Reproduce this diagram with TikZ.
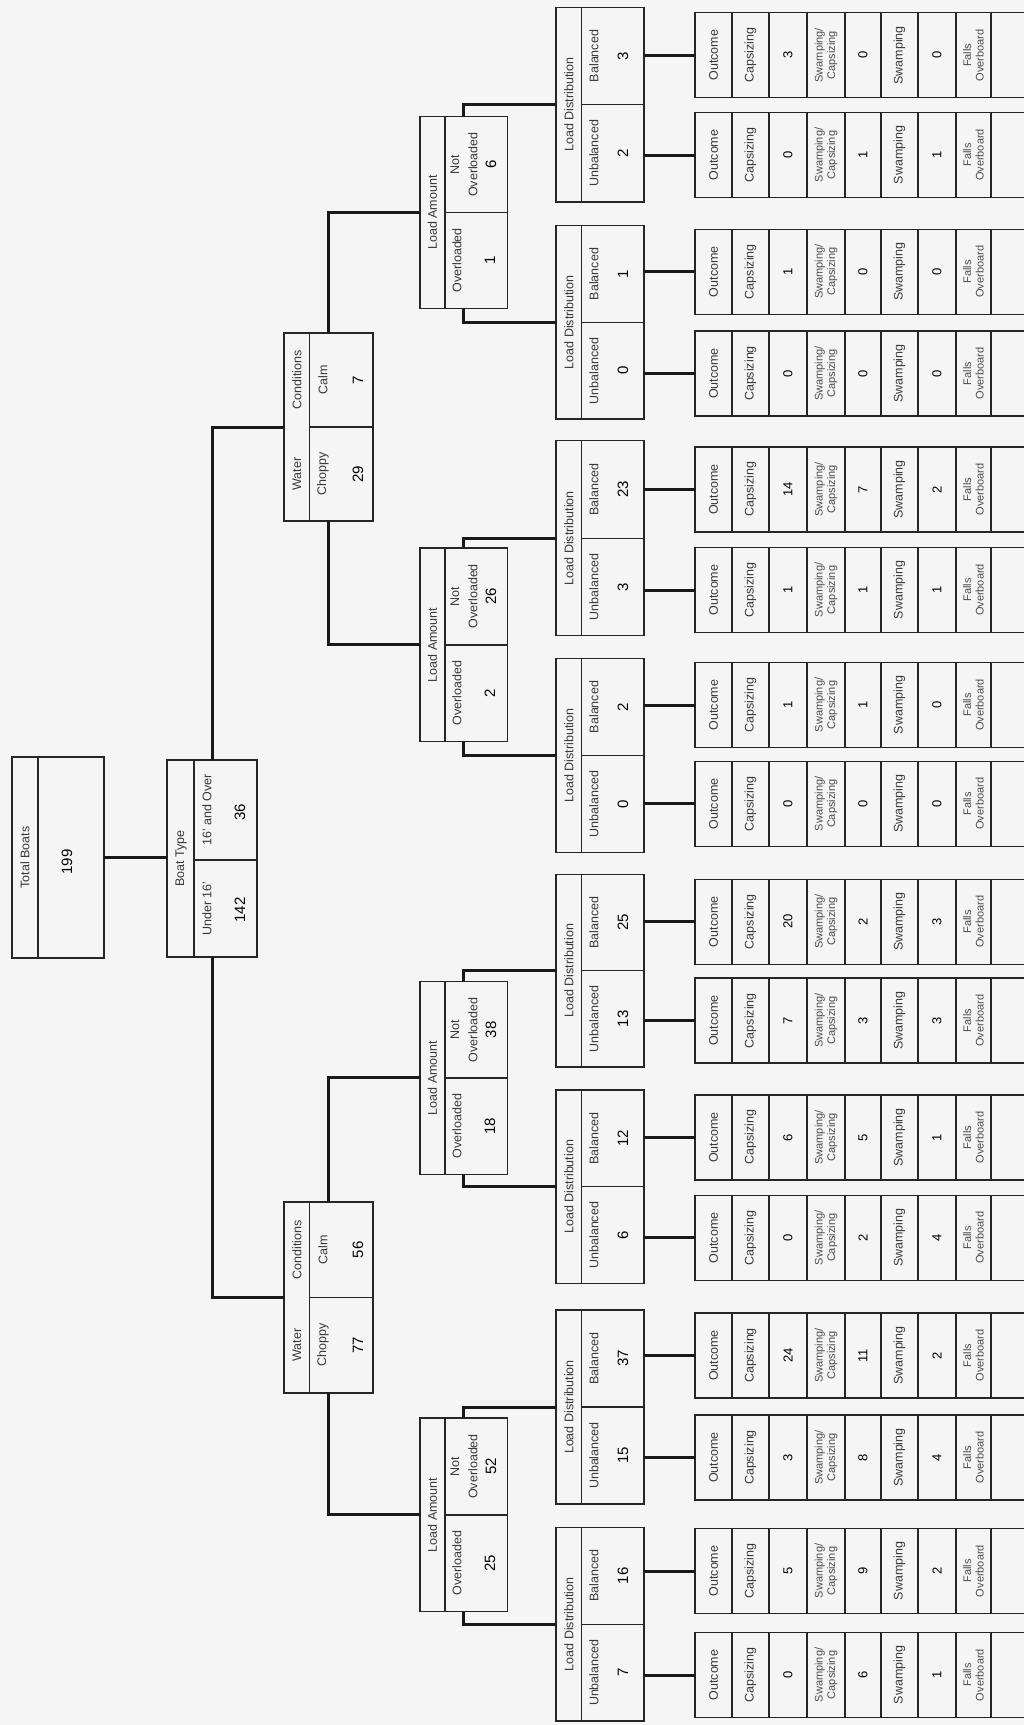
\documentclass[tikz,border=0pt]{standalone}
\usepackage{fontspec}
\setmainfont{Liberation Sans}
\newcommand{\LDbox}[5]{%
  \pgfmathsetmacro\ldmid{(#2+#3)/2}%
  \pgfmathsetmacro\ldh{#3-#2}%
  \pgfmathsetmacro\ldup{(#2+\ldmid)/2}%
  \pgfmathsetmacro\ldlo{(#3+\ldmid)/2}%
  \node[box, minimum width=88pt, minimum height=\ldh pt] (#1) at (600,\ldmid) {};
  \draw[boxline] (581.5,#2) -- (581.5,#3) (581.5,\ldmid) -- (644,\ldmid);
  \node[lab] (#1h) at (569,\ldmid) {Load Distribution};
  \node[lab] (#1bl) at (594,\ldup) {Balanced};
  \node[num] (#1bn) at (623,\ldup) {#4};
  \node[lab] (#1ul) at (594,\ldlo) {Unbalanced};
  \node[num] (#1un) at (623,\ldlo) {#5};
}
\newcommand{\LAbox}[5]{%
  \pgfmathsetmacro\lamid{(#2+#3)/2}%
  \pgfmathsetmacro\lah{#3-#2}%
  \pgfmathsetmacro\laup{(#2+\lamid)/2}%
  \pgfmathsetmacro\lalo{(#3+\lamid)/2}%
  \node[box, minimum width=87.5pt, minimum height=\lah pt] (#1) at (463.75,\lamid) {};
  \draw[boxline] (445,#2) -- (445,#3) (445,\lamid) -- (507.5,\lamid);
  \node[lab] (#1h) at (432.5,\lamid) {Load Amount};
  \node[lab] (#1ol) at (457,\lalo) {Overloaded};
  \node[num] (#1on) at (490,\lalo) {#4};
  \node[lab] (#1nl) at (455,\laup) {Not};
  \node[lab] (#1nlb) at (473,\laup) {Overloaded};
  \node[num] (#1nn) at (491,\laup) {#5};
}
\newcommand{\Wbox}[5]{%
  \pgfmathsetmacro\wmid{(#2+#3)/2}%
  \pgfmathsetmacro\wh{#3-#2}%
  \pgfmathsetmacro\wup{(#2+\wmid)/2}%
  \pgfmathsetmacro\wlo{(#3+\wmid)/2}%
  \node[box, minimum width=89pt, minimum height=\wh pt] (#1) at (328.5,\wmid) {};
  \draw[boxline] (309.5,#2) -- (309.5,#3) (309.5,\wmid) -- (373,\wmid);
  \node[lab] (#1hw) at (297,\wlo) {Water};
  \node[lab] (#1hc) at (297,\wup) {Conditions};
  \node[lab] (#1cl) at (323,\wlo) {Choppy};
  \node[num] (#1cn) at (358,\wlo) {#4};
  \node[lab] (#1ml) at (323,\wup) {Calm};
  \node[num] (#1mn) at (358,\wup) {#5};
}
\newcommand{\OCol}[6]{%
  \pgfmathsetmacro\octop{#2-42.5}%
  \pgfmathsetmacro\ocbot{#2+42.5}%
  \draw[boxline] (1024,\octop) -- (695,\octop) -- (695,\ocbot) -- (1024,\ocbot);
  \foreach \xx in {732,769,807,845,881,918,956,991} {\draw[boxline] (\xx,\octop) -- (\xx,\ocbot);}
  \coordinate (#1in) at (695,#2);
  \draw[conn] (#1in -| #6.east) -- (#1in);
  \node[lab] (#1a) at (713.5,#2) {Outcome};
  \node[lab] (#1b) at (750.5,#2) {Capsizing};
  \node[val] (#1c) at (788,#2) {#3};
  \node[two] (#1d) at (826,#2) {Swamping/\\Capsizing};
  \node[val] (#1e) at (863,#2) {#4};
  \node[lab] (#1f) at (899.5,#2) {Swamping};
  \node[val] (#1g) at (937,#2) {#5};
  \node[two] (#1h) at (973.5,#2) {Falls\\Overboard};
}
\begin{document}
\begin{tikzpicture}[x=1pt,y=-1pt,
  box/.style={draw=black!85, line width=1.3pt, inner sep=0pt, outer sep=0pt, rectangle},
  boxline/.style={draw=black!85, line width=1.3pt},
  conn/.style={draw=black!90, line width=3pt},
  lab/.style={rotate=90, font=\fontsize{12.5}{14}\selectfont, text=black!78, inner sep=0pt},
  two/.style={rotate=90, font=\fontsize{11}{12.5}\selectfont, text=black!70, inner sep=0pt, align=center},
  num/.style={rotate=90, font=\fontsize{15}{16}\selectfont, text=black, inner sep=0pt},
  val/.style={rotate=90, font=\fontsize{13}{14}\selectfont, text=black, inner sep=0pt}]
\useasboundingbox (0,0) rectangle (1024,1725);
\fill[black!4] (0,0) rectangle (1024,1725);

% root
\node[box, minimum width=92pt, minimum height=201pt] (root) at (58,857.5) {};
\draw[boxline] (38,757) -- (38,958);
\node[lab] (rootH) at (25,857.5) {Total Boats};
\node[num] (rootN) at (67,862) {199};

% boat type
\node[box, minimum width=90pt, minimum height=197pt] (bt) at (212,858.5) {};
\draw[boxline] (194,760) -- (194,957) (194,860) -- (257,860);
\node[lab] (btH) at (181,858.5) {Boat Type};
\node[lab] (btOl) at (207,810) {16' and Over};
\node[num] (btOn) at (240,812) {36};
\node[lab] (btUl) at (207,908.5) {Under 16'};
\node[num] (btUn) at (240,910) {142};

% water
\Wbox{wU}{333}{521}{29}{7}
\Wbox{wL}{1202}{1393}{77}{56}

% load amount
\LAbox{la1}{116.7}{308.3}{1}{6}
\LAbox{la2}{547.9}{741.8}{2}{26}
\LAbox{la3}{981.6}{1174.2}{18}{38}
\LAbox{la4}{1418}{1611.7}{25}{52}

% load distribution
\LDbox{ld1}{7.3}{202}{3}{2}
\LDbox{ld2}{225.7}{419}{1}{0}
\LDbox{ld3}{440.8}{635.5}{23}{3}
\LDbox{ld4}{658.5}{852.4}{2}{0}
\LDbox{ld5}{874.5}{1067}{25}{13}
\LDbox{ld6}{1090}{1283.6}{12}{6}
\LDbox{ld7}{1310}{1504}{37}{15}
\LDbox{ld8}{1527.4}{1721}{16}{7}

% outcome columns
\OCol{cAb}{55.3}{3}{0}{0}{ld1}
\OCol{cAu}{155}{0}{1}{1}{ld1}
\OCol{cBb}{271.7}{1}{0}{0}{ld2}
\OCol{cBu}{373.5}{0}{0}{0}{ld2}
\OCol{cCb}{489.4}{14}{7}{2}{ld3}
\OCol{cCu}{590}{1}{1}{1}{ld3}
\OCol{cDb}{705}{1}{1}{0}{ld4}
\OCol{cDu}{803.8}{0}{0}{0}{ld4}
\OCol{cEb}{921.7}{20}{2}{3}{ld5}
\OCol{cEu}{1020.6}{7}{3}{3}{ld5}
\OCol{cFb}{1137.4}{6}{5}{1}{ld6}
\OCol{cFu}{1237.8}{0}{2}{4}{ld6}
\OCol{cGb}{1355.5}{24}{11}{2}{ld7}
\OCol{cGu}{1457.5}{3}{8}{4}{ld7}
\OCol{cHb}{1571}{5}{9}{2}{ld8}
\OCol{cHu}{1675}{0}{6}{1}{ld8}

% connectors
\draw[conn] (root.east) -- (root.east -| bt.west);
\draw[conn] (bt.north) |- (wU.west);
\draw[conn] (bt.south) |- (wL.west);
\draw[conn] (wU.north) |- (la1.west);
\draw[conn] (wU.south) |- (la2.west);
\draw[conn] (wL.north) |- (la3.west);
\draw[conn] (wL.south) |- (la4.west);
\draw[conn] (la1.north) |- (ld1.west);
\draw[conn] (la1.south) |- (ld2.west);
\draw[conn] (la2.north) |- (ld3.west);
\draw[conn] (la2.south) |- (ld4.west);
\draw[conn] (la3.north) |- (ld5.west);
\draw[conn] (la3.south) |- (ld6.west);
\draw[conn] (la4.north) |- (ld7.west);
\draw[conn] (la4.south) |- (ld8.west);
\end{tikzpicture}
\end{document}
